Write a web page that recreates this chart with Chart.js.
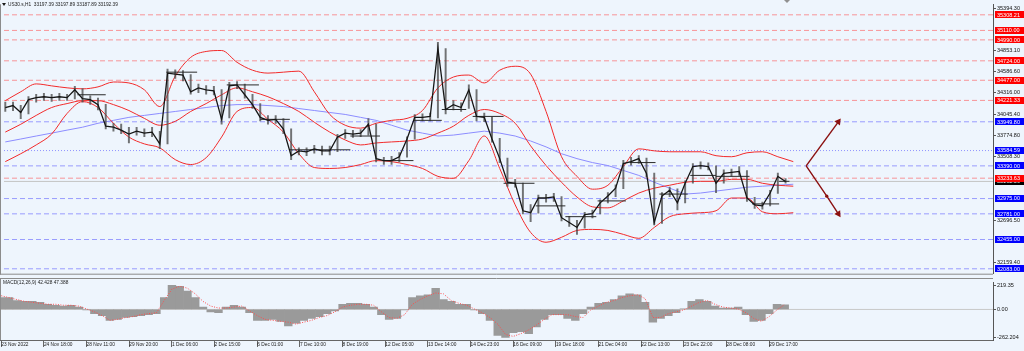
<!DOCTYPE html>
<html>
<head>
<meta charset="utf-8">
<script src="https://cdn.jsdelivr.net/npm/chart.js@4.4.1/dist/chart.umd.min.js"></script>
<style>
html,body{margin:0;padding:0;background:#eef5fd;overflow:hidden;}
#wrap{position:relative;width:1024px;height:351px;background:#eef5fd;}
canvas{position:absolute;left:0;display:block;}
#c1{top:0;}
#c2{top:278px;}
</style>
</head>
<body>
<div id="wrap">
<canvas id="c1" width="1024" height="278"></canvas>
<canvas id="c2" width="1024" height="73"></canvas>
</div>
<script>
const FONT = '"Liberation Sans", Arial, sans-serif';
const X_MIN = -1, X_MAX = 767.1;
const PRICE_MIN = 32020.7, PRICE_MAX = 35441.8;
const MACD_MIN = -283.4, MACD_MAX = 251.8;
const PRICE_STEP = 6, BAND_STEP = 12, TIME_TICK_STEP = 33;

const symbolHeader = 'US30.s,H1  33197.39 33197.89 33187.89 33192.39';
const macdHeader = 'MACD(12,26,9) 42.428 47.388';

const timeLabels = ['23 Nov 2022','24 Nov 18:00','28 Nov 11:00','29 Nov 20:00','1 Dec 06:00','2 Dec 15:00','6 Dec 01:00','7 Dec 10:00','8 Dec 19:00','12 Dec 05:00','13 Dec 14:00','14 Dec 23:00','16 Dec 09:00','19 Dec 18:00','21 Dec 04:00','22 Dec 13:00','23 Dec 22:00','28 Dec 08:00','29 Dec 17:00'];
const priceTicks = [35394.30, 34853.10, 34586.60, 34316.00, 34045.40, 33774.80, 33508.30, 32696.50, 32159.40];
const macdTicks = [219.35, 0, -262.204];
const macdTickLabels = ['219.35', '0.00', '-262.204'];

const redLevels = [35308.21, 35110.00, 34990.00, 34724.00, 34477.00, 34221.33, 33233.63];
const blueLevels = [33949.80, 33390.00, 32975.00, 32781.00, 32455.00, 32083.00];
const dottedBlueLevels = [33584.59];
const bidPrice = 33192.39;

const priceClose = [
34131,34156,34068,34231,34256,34268,34256,34268,34256,34356,
34243,34231,34168,33894,33881,33844,33794,33831,33806,33819,
33669,34568,34555,34543,34331,34381,34356,34343,33981,34406,
34418,34293,34168,34006,33968,33981,33856,33519,33581,33569,
33606,33581,33581,33756,33806,33794,33806,33919,33482,33457,
33457,33506,33731,34006,34006,34018,34880,34106,34168,34131,
34356,34018,34006,33731,33482,33182,33169,32820,32795,32982,
32982,32995,32732,32670,32608,32770,32782,32920,33007,33107,
33419,33444,33482,33294,32670,33007,33082,32920,33169,33382,
33394,33382,33169,33294,33307,33319,32982,32895,32882,33045,
33257,33192];
const priceHigh = [
34200,34200,34160,34270,34300,34310,34300,34310,34300,34400,
34370,34280,34250,34170,33930,33920,33880,33880,33860,33880,
33830,34620,34610,34600,34550,34430,34410,34400,34360,34450,
34460,34430,34300,34180,34030,34030,33990,33860,33620,33620,
33650,33640,33640,33790,33850,33840,33850,33990,33920,33500,
33510,33560,33760,34040,34050,34060,34960,34880,34220,34190,
34420,34360,34060,34010,33740,33490,33220,33170,32900,33020,
33030,33040,33000,32750,32700,32800,32830,32960,33050,33150,
33460,33500,33520,33490,33300,33050,33120,33100,33200,33420,
33440,33430,33390,33340,33350,33380,33330,32990,32930,33080,
33300,33230];
const priceLow = [
34080,34090,33990,34050,34200,34220,34210,34220,34220,34240,
34200,34170,34100,33860,33830,33800,33680,33780,33760,33760,
33610,33669,34500,34470,34300,34320,34300,34290,33920,34000,
34370,34250,34120,33960,33920,33930,33800,33470,33530,33520,
33550,33530,33530,33570,33740,33750,33760,33780,33440,33410,
33410,33440,33500,33730,33960,33960,34000,34050,34100,34080,
34120,33960,33950,33690,33430,33130,33120,32780,32680,32790,
32930,32940,32690,32620,32520,32600,32730,32780,32920,33000,
33100,33400,33420,33250,32640,32660,33000,32830,32920,33170,
33350,33340,33050,33170,33260,33270,32940,32850,32840,32880,
33040,33170];

const bbUpper = [
34218,34331,34431,34406,34381,34368,34393,34455,34443,34356,
34143,34530,34768,34843,34855,34705,34605,34568,34580,34593,
34331,34043,33906,33869,33931,33968,33993,34093,34381,34518,
34543,34443,34605,34655,34555,34081,33506,33257,33094,33144,
33382,33606,33581,33569,33569,33569,33519,33506,33556,33569,
33506,33444];
const bbMiddle = [
33819,33918,34031,34131,34181,34218,34218,34168,34093,33993,
33906,33956,34081,34181,34293,34381,34331,34268,34181,34081,
33944,33819,33719,33656,33681,33694,33706,33731,33806,33894,
34031,34106,34056,33931,33644,33394,33182,32995,32870,32857,
32945,33045,33107,33144,33182,33194,33194,33219,33219,33169,
33144,33132];
const bbLower = [
33444,33544,33656,33794,34056,34206,34131,33931,33756,33669,
33619,33469,33407,33494,33756,34081,34131,33981,33819,33544,
33369,33357,33369,33407,33457,33444,33407,33357,33257,33232,
33457,33769,33357,32895,32545,32420,32483,32570,32583,32570,
32520,32470,32608,32745,32782,32795,32820,32982,32982,32807,
32782,32795];
const maSlow = [
33694,33731,33769,33806,33844,33881,33931,33968,34006,34031,
34056,34081,34106,34131,34156,34168,34168,34156,34143,34118,
34093,34068,34043,34006,33968,33906,33844,33806,33769,33781,
33806,33831,33806,33769,33706,33631,33544,33482,33432,33394,
33332,33269,33182,33107,33032,33045,33070,33094,33119,33132,
33144,33157];

const macdMain = [
110,110,83,75,75,66,48,39,31,39,
22,-4,-39,-57,-101,-92,-75,-66,-57,-48,
-39,110,224,215,171,110,22,-22,-31,22,
39,22,-31,-101,-101,-92,-110,-153,-127,-101,
-83,-66,-39,-13,48,57,57,48,22,-48,
-92,-83,-4,110,127,136,197,92,75,48,
48,-4,-39,-101,-241,-259,-215,-206,-224,-162,
-92,-48,-48,-83,-101,-39,22,57,66,92,
127,145,136,66,-118,-83,-57,-31,4,75,
92,75,31,13,13,22,-48,-110,-101,-39,
48,42];
const macdSignal = [
127,110,92,75,66,57,48,48,39,39,
31,4,-22,-57,-101,-92,-75,-66,-48,-39,
-31,83,189,215,197,145,75,31,13,13,
22,31,-13,-57,-92,-101,-110,-118,-136,-118,
-101,-75,-57,-22,22,39,48,48,39,-22,
-75,-83,-48,48,92,127,153,145,83,57,
39,4,-31,-75,-136,-232,-250,-224,-189,-145,
-92,-48,-48,-48,-66,-75,-4,31,66,83,
110,127,136,101,-75,-75,-39,-22,-4,31,
66,83,48,22,13,4,-31,-83,-110,-66,
-4,47];

const dayStart = [56,125,172,198,221,268,294,317,339,363,387,412,435,460,485,508,532,552,580,601];
const dayEnd   = [78,149,197,221,268,291,317,339,358,387,411,435,459,482,505,530,552,578,601,609];
const dayLevel = [34293,34580,34418,33981,33594,33769,33457,33968,34106,34018,33169,32882,32745,32945,33432,33032,33269,33257,32907,33194];

const arrowUpBars = [622, 647];
const arrowUpPrices = [33390, 33949.8];
const arrowDownBars = [622, 638, 647];
const arrowDownPrices = [33390, 33005, 32781];

Chart.defaults.font.family = FONT;

const pts = (arr, step) => arr.map((v, i) => ({x: i * step, y: v}));
const hline = (v, color, dash, order) => ({
  type: 'line', data: [{x: X_MIN, y: v}, {x: X_MAX, y: v}],
  borderColor: color, borderWidth: 1, borderDash: dash, pointRadius: 0, order: order
});
const daySegments = [];
dayStart.forEach((s, k) => {
  daySegments.push({x: s, y: dayLevel[k]}, {x: dayEnd[k], y: dayLevel[k]}, {x: dayEnd[k] + 0.3, y: null});
});
const arrowRot = (c) => {
  const d = c.dataset.data, i = c.dataIndex;
  if (i === 0) return 0;
  const xs = c.chart.scales.x, ys = c.chart.scales.y;
  const dx = xs.getPixelForValue(d[i].x) - xs.getPixelForValue(d[i - 1].x);
  const dy = ys.getPixelForValue(d[i].y) - ys.getPixelForValue(d[i - 1].y);
  return Math.atan2(dx, -dy) * 180 / Math.PI;
};
const arrowSet = (bars, prices) => ({
  type: 'line',
  data: bars.map((b, i) => ({x: b, y: prices[i]})),
  borderColor: '#8b1010', borderWidth: 1.4, order: 0,
  pointRadius: bars.map((b, i) => i === 0 ? 0 : (i === bars.length - 1 ? 4 : 1.6)),
  pointStyle: bars.map((b, i) => i === bars.length - 1 ? 'triangle' : 'circle'),
  pointRotation: arrowRot,
  pointBackgroundColor: '#8b1010', pointBorderColor: '#8b1010', pointBorderWidth: 0
});

const levelDatasets = [];
redLevels.forEach(v => levelDatasets.push(hline(v, 'rgba(255,70,70,0.55)', [5, 3], 20)));
blueLevels.forEach(v => levelDatasets.push(hline(v, 'rgba(70,70,255,0.5)', [5, 3], 20)));
dottedBlueLevels.forEach(v => levelDatasets.push(hline(v, 'rgba(70,70,255,0.55)', [1, 2], 20)));
levelDatasets.push(hline(bidPrice, '#c4c4c4', [], 21));

const overlay1 = {
  id: 'overlay1',
  afterDraw(chart) {
    const ctx = chart.ctx, ys = chart.scales.y, a = chart.chartArea;
    ctx.save();
    ctx.strokeStyle = '#8c8c8c'; ctx.lineWidth = 1;
    ctx.beginPath(); ctx.moveTo(0.5, a.top); ctx.lineTo(0.5, a.bottom + 1); ctx.stroke();
    ctx.beginPath(); ctx.moveTo(0, a.bottom + 0.5); ctx.lineTo(a.right, a.bottom + 0.5); ctx.stroke();
    const box = (v, bg) => {
      const py = ys.getPixelForValue(v);
      ctx.fillStyle = bg;
      ctx.fillRect(a.right + 2, Math.round(py - 3.5), 29, 7);
      ctx.fillStyle = '#ffffff';
      ctx.font = '5.5px ' + FONT;
      ctx.textBaseline = 'middle'; ctx.textAlign = 'left';
      ctx.fillText(v.toFixed(2), a.right + 4, py + 0.3);
    };
    box(bidPrice, '#000000');
    redLevels.forEach(v => box(v, '#ff0000'));
    blueLevels.forEach(v => box(v, '#0000ff'));
    dottedBlueLevels.forEach(v => box(v, '#0000ff'));
    ctx.fillStyle = '#1a1a1a';
    ctx.beginPath(); ctx.moveTo(2, 3); ctx.lineTo(6, 3); ctx.lineTo(4, 6); ctx.closePath(); ctx.fill();
    ctx.font = '4.8px ' + FONT; ctx.textBaseline = 'middle'; ctx.textAlign = 'left';
    ctx.fillText(symbolHeader, 8, 4.6);
    ctx.fillStyle = '#909090';
    ctx.beginPath(); ctx.moveTo(784, 0); ctx.lineTo(790, 0); ctx.lineTo(787, 3); ctx.closePath(); ctx.fill();
    ctx.restore();
  }
};

new Chart(document.getElementById('c1'), {
  type: 'line',
  data: {datasets: [
    ...levelDatasets,
    {data: pts(maSlow, BAND_STEP), borderColor: '#8c8cff', borderWidth: 1, pointRadius: 0, order: 8},
    {data: pts(bbUpper, BAND_STEP), borderColor: '#f22a2a', borderWidth: 1, pointRadius: 0, order: 6, cubicInterpolationMode: 'monotone'},
    {data: pts(bbMiddle, BAND_STEP), borderColor: '#f22a2a', borderWidth: 1, pointRadius: 0, order: 6, cubicInterpolationMode: 'monotone'},
    {data: pts(bbLower, BAND_STEP), borderColor: '#f22a2a', borderWidth: 1, pointRadius: 0, order: 6, cubicInterpolationMode: 'monotone'},
    {data: daySegments, borderColor: '#2a2a2a', borderWidth: 1, pointRadius: 0, spanGaps: false, order: 3},
    {type: 'bar', data: priceHigh.map((h, i) => ({x: i * PRICE_STEP, y: [priceLow[i], h]})),
      backgroundColor: 'rgba(70,70,70,0.75)', borderWidth: 0, barThickness: 1.3, order: 4},
    {data: pts(priceClose, PRICE_STEP), borderColor: '#161616', borderWidth: 1.3, pointRadius: 0, order: 2},
    arrowSet(arrowUpBars, arrowUpPrices),
    arrowSet(arrowDownBars, arrowDownPrices)
  ]},
  options: {
    responsive: false, animation: false, events: [],
    layout: {padding: {top: 3, bottom: 1, left: 0, right: 0}},
    plugins: {legend: {display: false}, tooltip: {enabled: false}},
    elements: {line: {tension: 0}},
    scales: {
      x: {type: 'linear', min: X_MIN, max: X_MAX, bounds: 'data', display: false, offset: false},
      y: {position: 'right', min: PRICE_MIN, max: PRICE_MAX, bounds: 'data',
        afterFit(s) { s.width = 31; },
        afterBuildTicks(s) { s.ticks = priceTicks.map(v => ({value: v})); },
        ticks: {autoSkip: false, callback: v => Number(v).toFixed(2), font: {size: 5.5, family: FONT}, color: '#111', padding: 1},
        grid: {drawOnChartArea: false, drawTicks: true, tickLength: 3, color: '#555'},
        border: {display: true, color: '#555'}}
    }
  },
  plugins: [overlay1]
});

const overlay2 = {
  id: 'overlay2',
  afterDraw(chart) {
    const ctx = chart.ctx, a = chart.chartArea;
    ctx.save();
    ctx.strokeStyle = '#8c8c8c'; ctx.lineWidth = 1;
    ctx.beginPath(); ctx.moveTo(0, 0.5); ctx.lineTo(a.right, 0.5); ctx.stroke();
    ctx.beginPath(); ctx.moveTo(0.5, 0); ctx.lineTo(0.5, a.bottom); ctx.stroke();
    ctx.fillStyle = '#1a1a1a';
    ctx.font = '4.8px ' + FONT; ctx.textBaseline = 'middle'; ctx.textAlign = 'left';
    ctx.fillText(macdHeader, 3, 5);
    ctx.restore();
  }
};

new Chart(document.getElementById('c2'), {
  type: 'bar',
  data: {datasets: [
    {type: 'line', data: [{x: X_MIN, y: 0}, {x: X_MAX, y: 0}], borderColor: '#c8c8c8', borderWidth: 1, pointRadius: 0, order: 5},
    {type: 'bar', data: pts(macdMain, PRICE_STEP), backgroundColor: '#9a9a9a', borderWidth: 0, barPercentage: 1, categoryPercentage: 1, order: 3},
    {type: 'line', data: pts(macdSignal, PRICE_STEP), borderColor: '#ff4d4d', borderWidth: 1, borderDash: [1, 1.5], pointRadius: 0, order: 1}
  ]},
  options: {
    responsive: false, animation: false, events: [],
    layout: {padding: {top: 1, left: 0, right: 0, bottom: 0}},
    plugins: {legend: {display: false}, tooltip: {enabled: false}},
    scales: {
      x: {type: 'linear', min: X_MIN, max: X_MAX, bounds: 'data', offset: false,
        afterFit(s) { s.height = 11; },
        afterBuildTicks(s) { s.ticks = timeLabels.map((_, k) => ({value: k * TIME_TICK_STEP})); },
        ticks: {autoSkip: false, maxRotation: 0, minRotation: 0, align: 'start', padding: -5,
          callback: (v, i) => timeLabels[i], font: {size: 4.8, family: FONT}, color: '#222'},
        grid: {drawOnChartArea: false, drawTicks: true, tickLength: 7, color: '#666', offset: false},
        border: {display: true, color: '#666'}},
      y: {position: 'right', min: MACD_MIN, max: MACD_MAX, bounds: 'data',
        afterFit(s) { s.width = 31; },
        afterBuildTicks(s) { s.ticks = macdTicks.map(v => ({value: v})); },
        ticks: {autoSkip: false, callback: (v, i) => macdTickLabels[i], font: {size: 5.5, family: FONT}, color: '#111', padding: 1},
        grid: {drawOnChartArea: false, drawTicks: true, tickLength: 3, color: '#555'},
        border: {display: true, color: '#555'}}
    }
  },
  plugins: [overlay2]
});
</script>
</body>
</html>
